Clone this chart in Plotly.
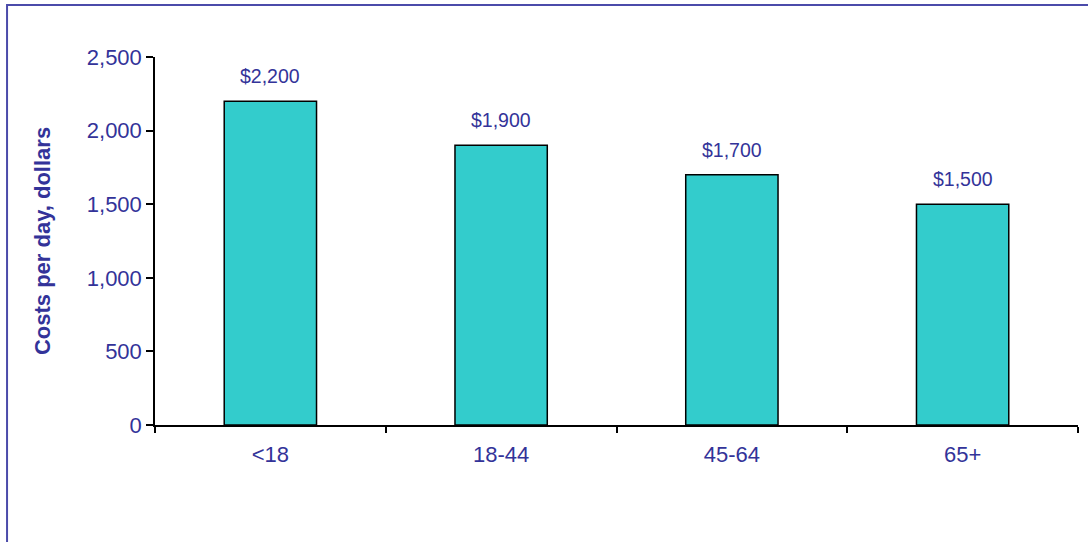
import plotly.graph_objects as go

age_groups = ["<18", "18-44", "45-64", "65+"]
costs_per_day = [2200, 1900, 1700, 1500]
y_ticks = [0, 500, 1000, 1500, 2000, 2500]

TEXT = "#333399"
BAR = "#33CCCC"

fig = go.Figure()
fig.add_trace(go.Bar(
    x=age_groups,
    y=costs_per_day,
    width=0.4,
    marker=dict(color=BAR, line=dict(color="black", width=1.5)),
    showlegend=False,
    hoverinfo="skip",
))

for cat, val in zip(age_groups, costs_per_day):
    fig.add_annotation(
        x=cat, y=val, text=f"${val:,}", showarrow=False,
        yanchor="bottom", yshift=12,
        font=dict(size=19.5, color=TEXT),
    )

# outer frame (runs off the right and bottom edges)
fig.add_shape(
    type="rect", xref="paper", yref="paper",
    x0=-0.1603, x1=1.2, y0=-0.6, y1=1.141,
    line=dict(color="#4B4BAA", width=2), fillcolor="rgba(0,0,0,0)",
)

fig.update_layout(
    width=1088, height=542,
    paper_bgcolor="white", plot_bgcolor="white",
    font=dict(family="Liberation Sans, Arial", color=TEXT),
    margin=dict(l=155, r=10, t=57, b=117, autoexpand=False),
)
fig.update_xaxes(
    type="category", range=[-0.5, 3.5],
    showline=True, linecolor="black", linewidth=1.5,
    ticks="outside", tickson="boundaries", ticklen=6, tickcolor="black", tickwidth=1.5,
    tickfont=dict(size=22, color=TEXT), ticklabelstandoff=9,
    showgrid=False, zeroline=False,
)
fig.update_yaxes(
    range=[0, 2500], tickvals=y_ticks, tickformat=",",
    showline=True, linecolor="black", linewidth=1.5,
    ticks="outside", ticklen=7, tickcolor="black", tickwidth=1.5,
    tickfont=dict(size=22, color=TEXT),
    showgrid=False, zeroline=False,
    title=dict(text="<b>Costs per day, dollars</b>", font=dict(size=22, color=TEXT), standoff=30),
)

# drop the default 8px page margin so the figure sits at the window corner
fig.write_html(
    "out.html",
    config={"displayModeBar": False},
    post_script="document.body.style.margin='0';",
)
